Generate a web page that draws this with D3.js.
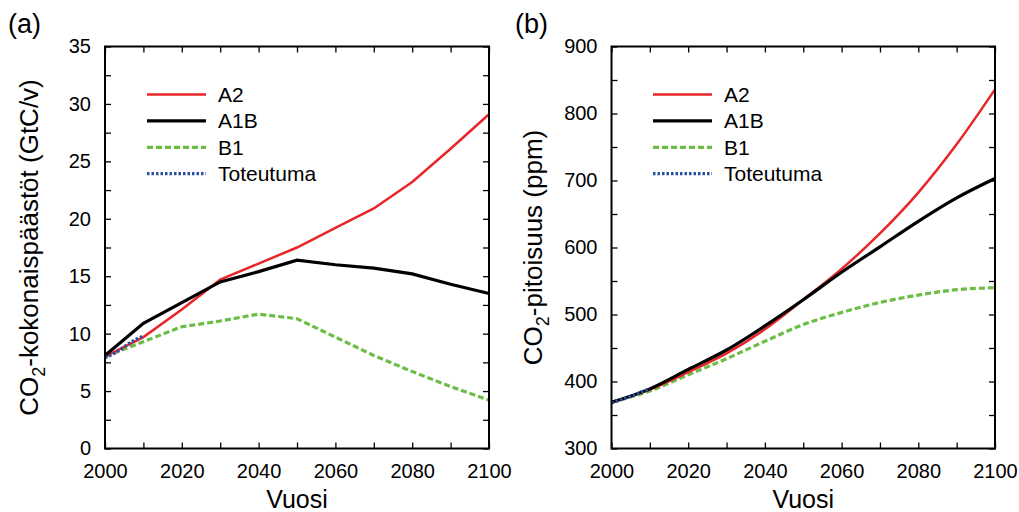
<!DOCTYPE html>
<html>
<head>
<meta charset="utf-8">
<script src="https://cdn.jsdelivr.net/npm/d3@7"></script>
<style>
  body { margin: 0; background: #fff; }
  text { font-family: "Liberation Sans", Arial, sans-serif; fill: #000; }
</style>
</head>
<body>
<div id="chart"></div>
<script>
const width = 1019, height = 512;

// vuodet
const years = [2000, 2010, 2020, 2030, 2040, 2050, 2060, 2070, 2080, 2090, 2100];

// (a) kokonaispäästöt GtC/v
const emisA2  = [8.0, 9.7, 12.1, 14.7, 16.1, 17.5, 19.2, 20.9, 23.2, 26.1, 29.1];
const emisA1B = [8.1, 10.9, 12.7, 14.5, 15.4, 16.4, 16.0, 15.7, 15.2, 14.3, 13.5];
const emisB1  = [8.0, 9.3, 10.6, 11.1, 11.7, 11.3, 9.7, 8.1, 6.7, 5.4, 4.2];
const obsYearsA = [2000, 2002, 2004, 2006, 2008, 2010];
const emisObs  = [7.9, 8.2, 8.6, 9.1, 9.5, 9.8];

// (b) pitoisuus ppm
const concA2  = [369, 388, 414, 442, 478, 522, 568, 621, 682, 754, 836];
const concA1B = [369, 389, 418, 447, 483, 522, 563, 601, 639, 674, 703];
const concB1  = [369, 386, 410, 434, 460, 485, 503, 518, 529, 537, 540];
const obsYearsB = [2000, 2002, 2004, 2006, 2008, 2010];
const concObs  = [368, 372, 376, 380, 385, 389];

const legendNames = ["A2", "A1B", "B1", "Toteutuma"];

const styles = {
  "A2":        { color: "#e8262a", w: 2.5, dash: null },
  "A1B":       { color: "#000000", w: 3.2, dash: null },
  "B1":        { color: "#6cbd45", w: 3.2, dash: "6,3" },
  "Toteutuma": { color: "#2b4fa3", w: 3.2, dash: "2.5,2" }
};

const svg = d3.select("#chart").append("svg")
  .attr("width", width)
  .attr("height", height);

function drawPanel(cfg){
  let left = cfg.left, right = cfg.right, top = 46.5, bottom = 448.5;

  let x = d3.scaleLinear().domain([2000, 2100]).range([left, right]);
  let y = d3.scaleLinear().domain(cfg.yDomain).range([bottom, top]);

  let g = svg.append("g");

  let xt = d3.range(2000, 2101, 10);
  let yt = d3.range(cfg.yDomain[0], cfg.yDomain[1] + 0.01, cfg.yMinor);

  // akselit, tikit sisäänpäin
  g.append("g")
    .attr("transform", "translate(0," + bottom + ")")
    .call(d3.axisBottom(x).tickValues(xt).tickSize(-6).tickPadding(15)
      .tickFormat(d => d % 20 == 0 ? d : ""))
    .call(a => a.select(".domain").remove())
    .call(a => a.selectAll("text").attr("font-size", 20).attr("font-family", "Liberation Sans, Arial"));

  g.append("g")
    .attr("transform", "translate(0," + top + ")")
    .call(d3.axisTop(x).tickValues(xt).tickSize(-6).tickFormat(""))
    .call(a => a.select(".domain").remove());

  g.append("g")
    .attr("transform", "translate(" + left + ",0)")
    .call(d3.axisLeft(y).tickValues(yt).tickSize(-6).tickPadding(14)
      .tickFormat(d => d % cfg.yMajor == 0 ? d : ""))
    .call(a => a.select(".domain").remove())
    .call(a => a.selectAll("text").attr("font-size", 20).attr("font-family", "Liberation Sans, Arial"));

  g.append("g")
    .attr("transform", "translate(" + right + ",0)")
    .call(d3.axisRight(y).tickValues(yt).tickSize(-6).tickFormat(""))
    .call(a => a.select(".domain").remove());

  g.selectAll(".tick line").attr("stroke", "#000").attr("stroke-width", 1.3);

  let line = d3.line()
    .x(d => x(d[0]))
    .y(d => y(d[1]))
    .curve(cfg.curve);

  cfg.series.forEach(s => {
    let st = styles[s.name];
    g.append("path")
      .datum(d3.zip(s.years, s.values))
      .attr("d", line)
      .attr("fill", "none")
      .attr("stroke", st.color)
      .attr("stroke-width", st.w)
      .attr("stroke-dasharray", st.dash);
  });

  // kehys
  g.append("rect")
    .attr("x", left).attr("y", top)
    .attr("width", right - left).attr("height", bottom - top)
    .attr("fill", "none").attr("stroke", "#000").attr("stroke-width", 2);

  // selite
  legendNames.forEach((n, i) => {
    let st = styles[n];
    let ly = 94.5 + i * 26.4;
    g.append("line")
      .attr("x1", cfg.legX).attr("x2", cfg.legX + 59)
      .attr("y1", ly).attr("y2", ly)
      .attr("stroke", st.color).attr("stroke-width", st.w)
      .attr("stroke-dasharray", st.dash);
    g.append("text")
      .attr("x", cfg.legX + 71).attr("y", ly + 7.5)
      .attr("font-size", 21)
      .text(n);
  });

  g.append("text")
    .attr("x", (left + right) / 2).attr("y", 508)
    .attr("text-anchor", "middle")
    .attr("font-size", 25)
    .text("Vuosi");

  let yl = g.append("text")
    .attr("transform", "translate(" + cfg.yLabX + "," + (top + bottom) / 2 + ") rotate(-90)")
    .attr("text-anchor", "middle")
    .attr("font-size", 26);
  yl.append("tspan").text("CO");
  yl.append("tspan").attr("font-size", 18).attr("dy", 7).text("2");
  yl.append("tspan").attr("dy", -7).text(cfg.yLabel);

  g.append("text")
    .attr("x", cfg.tagX).attr("y", 33)
    .attr("font-size", 27)
    .text(cfg.tag);
}

drawPanel({
  left: 105, right: 489,
  yDomain: [0, 35], yMinor: 2.5, yMajor: 5,
  curve: d3.curveLinear,
  legX: 147, yLabX: 38, tagX: 8, tag: "(a)",
  yLabel: "-kokonaispäästöt (GtC/v)",
  series: [
    { name: "B1", years: years, values: emisB1 },
    { name: "A2", years: years, values: emisA2 },
    { name: "A1B", years: years, values: emisA1B },
    { name: "Toteutuma", years: obsYearsA, values: emisObs }
  ]
});

drawPanel({
  left: 611.5, right: 995,
  yDomain: [300, 900], yMinor: 50, yMajor: 100,
  curve: d3.curveMonotoneX,
  legX: 653, yLabX: 542, tagX: 515, tag: "(b)",
  yLabel: "-pitoisuus (ppm)",
  series: [
    { name: "B1", years: years, values: concB1 },
    { name: "A2", years: years, values: concA2 },
    { name: "A1B", years: years, values: concA1B },
    { name: "Toteutuma", years: obsYearsB, values: concObs }
  ]
});
</script>
</body>
</html>
